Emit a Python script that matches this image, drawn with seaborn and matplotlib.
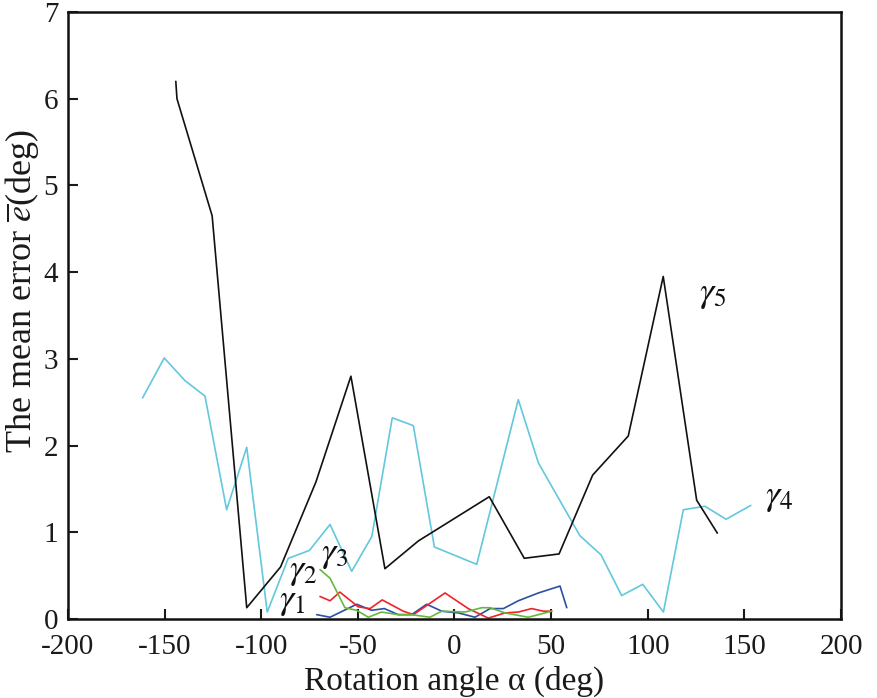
import numpy as np
import pandas as pd
import seaborn as sns
import matplotlib
matplotlib.use("Agg")
import matplotlib.pyplot as plt

# Rotation angle (deg) and mean error (deg) for each gamma setting
g1_x = [-71.3, -64.4, -50.6, -42.9, -36.3, -29.1, -22.2, -14.4, -6.6, 2.0, 10.6, 18.4, 25.3, 33.0, 43.4, 54.6, 58.1]
g1_y = [0.05, 0.02, 0.17, 0.10, 0.12, 0.05, 0.05, 0.17, 0.09, 0.07, 0.02, 0.12, 0.12, 0.21, 0.30, 0.38, 0.13]

g2_x = [-69.6, -64.4, -59.3, -49.8, -43.7, -37.4, -26.5, -21.3, -4.9, 7.1, 17.5, 26.1, 33.0, 39.9, 46.0, 50.3]
g2_y = [0.26, 0.21, 0.31, 0.14, 0.12, 0.22, 0.09, 0.05, 0.30, 0.12, 0.01, 0.07, 0.08, 0.12, 0.09, 0.09]

g3_x = [-69.6, -64.4, -56.7, -50.6, -44.6, -37.8, -29.1, -22.2, -12.7, -6.6, 5.4, 14.1, 18.4, 26.1, 38.2, 50.3]
g3_y = [0.57, 0.47, 0.13, 0.10, 0.02, 0.08, 0.05, 0.05, 0.02, 0.09, 0.08, 0.13, 0.13, 0.07, 0.02, 0.09]

g4_x = [-161.4, -150.2, -139.5, -129.1, -117.9, -107.5, -96.9, -86.0, -75.1, -64.4, -53.2, -42.8,
        -32.2, -21.3, -10.4, 11.5, 33.0, 43.4, 64.9, 75.8, 86.5, 97.4, 108.1, 118.4, 129.6, 140.5, 153.3]
g4_y = [2.55, 3.01, 2.75, 2.57, 1.26, 1.98, 0.08, 0.70, 0.79, 1.09, 0.55, 0.95,
        2.32, 2.23, 0.83, 0.63, 2.53, 1.80, 0.96, 0.74, 0.27, 0.40, 0.08, 1.26, 1.30, 1.15, 1.31]

g5_x = [-144.2, -143.6, -125.4, -107.5, -90.0, -71.7, -53.6, -36.0, -18.7, 18.0, 36.1, 54.1, 71.5, 89.9, 108.0, 125.3, 136.0]
g5_y = [6.20, 6.00, 4.65, 0.13, 0.60, 1.58, 2.80, 0.58, 0.90, 1.41, 0.70, 0.75, 1.66, 2.11, 3.95, 1.37, 0.99]

x_ticks = [-200, -150, -100, -50, 0, 50, 100, 150, 200]
y_ticks = [0, 1, 2, 3, 4, 5, 6, 7]

series = [
    (g1_x, g1_y, "#2c4ea6"),
    (g2_x, g2_y, "#f0222a"),
    (g3_x, g3_y, "#66b83c"),
    (g4_x, g4_y, "#62c8dc"),
    (g5_x, g5_y, "#111111"),
]

sns.set_style("ticks")
plt.rcParams["font.family"] = ["Liberation Serif", "DejaVu Serif"]
plt.rcParams["mathtext.fontset"] = "stix"

fig = plt.figure(figsize=(8.78, 6.98), dpi=100)
ax = fig.add_axes([0.0774, 0.1132, 0.8805, 0.8696])

for xs, ys, col in series:
    df = pd.DataFrame({"x": xs, "y": ys})
    sns.lineplot(data=df, x="x", y="y", sort=False, estimator=None,
                 color=col, linewidth=1.2, ax=ax)

ax.set_xlim(-200, 200)
ax.set_ylim(0, 7)
ax.set_xticks(x_ticks)
ax.set_yticks(y_ticks)
ax.set_xticklabels([str(v) for v in x_ticks])
ax.set_yticklabels([str(v) for v in y_ticks])
ax.tick_params(direction="in", length=7, width=1.5, labelsize=21, colors="#1a1a1a",
               top=False, right=False)
ax.tick_params(axis="x", pad=11)
ax.tick_params(axis="y", pad=7)
for sp in ax.spines.values():
    sp.set_visible(True)
    sp.set_linewidth(1.8)
    sp.set_color("#111111")

ax.set_xlabel("Rotation angle α (deg)", fontsize=24, labelpad=4, color="#1a1a1a")
ax.set_ylabel(r"The mean error $\overline{e}$(deg)", fontsize=26, color="#1a1a1a")
ax.yaxis.set_label_coords(-0.035, 0.54)

lab_kw = dict(fontsize=26, ha="center", va="center", color="#111111")
ax.text(-84.0, 0.20, r"$\gamma_1$", **lab_kw)
ax.text(-78.0, 0.55, r"$\gamma_2$", **lab_kw)
ax.text(-62.0, 0.74, r"$\gamma_3$", **lab_kw)
ax.text(168.0, 1.40, r"$\gamma_4$", **lab_kw)
ax.text(133.5, 3.74, r"$\gamma_5$", **lab_kw)

fig.savefig("out.png", dpi=100)
